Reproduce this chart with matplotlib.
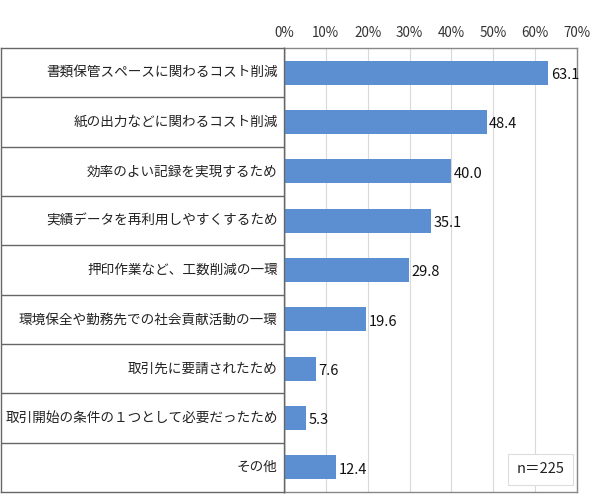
import matplotlib.pyplot as plt
import numpy as np

plt.rcParams['font.family'] = ['Noto Sans CJK JP', 'DejaVu Sans']

categories = [
    '書類保管スペースに関わるコスト削減',
    '紙の出力などに関わるコスト削減',
    '効率のよい記録を実現するため',
    '実績データを再利用しやすくするため',
    '押印作業など、工数削減の一環',
    '環境保全や勤務先での社会貢献活動の一環',
    '取引先に要請されたため',
    '取引開始の条件の１つとして必要だったため',
    'その他',
]
values = [63.1, 48.4, 40.0, 35.1, 29.8, 19.6, 7.6, 5.3, 12.4]
ticks = [0, 10, 20, 30, 40, 50, 60, 70]
tick_labels = ['%d%%' % t for t in ticks]
n_label = 'n＝225'

narrow = ['Liberation Sans Narrow', 'Noto Sans CJK JP', 'DejaVu Sans']

fig = plt.figure(figsize=(5.9, 5.01), dpi=100)
bottom = 1 - 492 / 501
top = 1 - 48 / 501
left = 284 / 590
right = 577 / 590

ax = fig.add_axes([left, bottom, right - left, top - bottom])
tab = fig.add_axes([1 / 590, bottom, left - 1 / 590, top - bottom])

n = len(categories)
y = np.arange(n)

ax.barh(y, values, height=0.48, color='#5B8FD1', zorder=3)
for yi, v in zip(y, values):
    ax.text(v + 0.6, yi + 0.05, '%.1f' % v, va='center', ha='left',
            fontsize=10.5, color='#111111', family=narrow)

ax.set_xlim(0, 70)
ax.set_ylim(n - 0.5, -0.5)
ax.set_xticks(ticks)
ax.set_xticklabels(tick_labels)
ax.xaxis.tick_top()
ax.tick_params(axis='x', length=0, pad=6, labelsize=9.7, colors='#333333')
ax.set_yticks([])
ax.grid(axis='x', color='#D9D9D9', linewidth=0.8, zorder=0)
for s in ax.spines.values():
    s.set_color('#888888')
    s.set_linewidth(1.0)
ax.spines['left'].set_color('#333333')

ax.text(0.875, 0.051, n_label, transform=ax.transAxes, ha='center', va='center',
        fontsize=10.5, color='#222222', family=narrow,
        bbox=dict(boxstyle='square,pad=0.6', facecolor='white', edgecolor='#DDDDDD', linewidth=0.8),
        zorder=5)

# left table with category labels
tab.set_xlim(0, 1)
tab.set_ylim(n - 0.5, -0.5)
tab.set_xticks([])
tab.set_yticks([])
for s in tab.spines.values():
    s.set_color('#666666')
    s.set_linewidth(1.0)
for b in np.arange(n - 1) + 0.5:
    tab.axhline(b, color='#666666', linewidth=1.0)
for yi, c in zip(y, categories):
    tab.text(0.978, yi, c, ha='right', va='center', fontsize=9.8, color='#222222')

fig.savefig('out.png', dpi=100)
